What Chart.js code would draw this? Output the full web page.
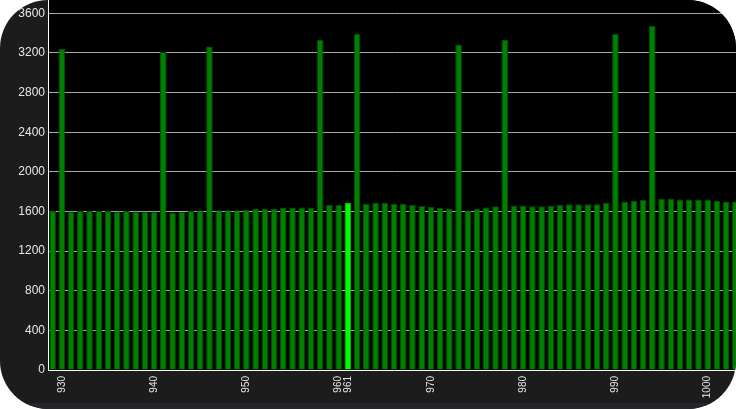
<!DOCTYPE html>
<html>
<head>
<meta charset="utf-8">
<script src="https://cdn.jsdelivr.net/npm/chart.js@4"></script>
<style>
    html, body { margin: 0; padding: 0; background: #ffffff; overflow: hidden; }
    #panel {
        position: relative;
        width: 736px;
        height: 409px;
        border-radius: 48px;
        overflow: hidden;
        background: #1c1c1c;
    }
    #band {
        position: absolute;
        left: 0; right: 0; bottom: 0;
        height: 6px;
        background: #25262a;
    }
    canvas { position: absolute; left: 0; top: 0; }
</style>
</head>
<body>
<div id="panel">
    <canvas id="frameChart" width="740" height="409"></canvas>
    <div id="band"></div>
</div>
<script>
// frame numbers on the x axis
const frames = [
    929, 930, 931, 932, 933, 934, 935, 936, 937, 938, 939, 940, 941, 942, 943,
    944, 945, 946, 947, 948, 949, 950, 951, 952, 953, 954, 955, 956, 957, 958,
    959, 960, 961, 962, 963, 964, 965, 966, 967, 968, 969, 970, 971, 972, 973,
    974, 975, 976, 977, 978, 979, 980, 981, 982, 983, 984, 985, 986, 987, 988,
    989, 990, 991, 992, 993, 994, 995, 996, 997, 998, 999, 1000, 1001, 1002, 1003
];

// value per frame
const frameValues = [
    1605, 3240, 1600, 1605, 1605, 1605, 1605, 1600, 1605, 1600, 1600, 1600, 3210, 1590, 1595,
    1605, 1610, 3265, 1612, 1612, 1612, 1615, 1625, 1625, 1625, 1640, 1640, 1640, 1640, 3335,
    1665, 1665, 1688, 3395, 1678, 1688, 1688, 1678, 1678, 1668, 1655, 1645, 1635, 1628, 3285,
    1608, 1628, 1640, 1652, 3330, 1660, 1660, 1652, 1652, 1660, 1667, 1673, 1673, 1673, 1673,
    1687, 3395, 1700, 1707, 1718, 3475, 1725, 1725, 1720, 1720, 1720, 1720, 1707, 1700, 1700
];

// labels that are written under the axis
const shownTicks = [930, 940, 950, 960, 961, 970, 980, 990, 1000];
const selectedFrame = 961;

// y axis ticks
const yTicks = [0, 400, 800, 1200, 1600, 2000, 2400, 2800, 3200, 3600];
const yMax = 3735;

// black plot area
const plotBackground = {
    id: 'plotBackground',
    beforeDraw(chart) {
        const a = chart.chartArea;
        const ctx = chart.ctx;
        ctx.save();
        ctx.fillStyle = '#000000';
        ctx.fillRect(a.left, a.top, a.right - a.left, a.bottom - a.top);
        ctx.restore();
    }
};

const ctx = document.getElementById('frameChart').getContext('2d');
const chart = new Chart(ctx, {
    type: 'bar',
    data: {
        labels: frames.map(String),
        datasets: [{
            data: frameValues,
            backgroundColor: frames.map(f => f === selectedFrame ? '#00ff00' : '#008000'),
            borderColor: frames.map(f => f === selectedFrame ? '#00c800' : '#005200'),
            borderWidth: 1,
            barPercentage: 0.72,
            categoryPercentage: 1
        }]
    },
    options: {
        responsive: false,
        animation: false,
        layout: { padding: 0 },
        plugins: {
            legend: { display: false },
            tooltip: { enabled: false }
        },
        scales: {
            x: {
                z: 1,
                grid: { display: false, drawTicks: false },
                border: { display: true, color: '#ffffff', width: 1 },
                ticks: {
                    autoSkip: false,
                    minRotation: 90,
                    maxRotation: 90,
                    padding: 6,
                    color: '#e6e6e6',
                    font: { family: 'Liberation Sans', size: 10 },
                    callback: function (value) {
                        const f = frames[value];
                        return shownTicks.includes(f) ? String(f) : '';
                    }
                },
                afterFit: function (scale) {
                    scale.height = 39;
                    scale.paddingLeft = 0;
                    scale.paddingRight = 0;
                }
            },
            y: {
                z: 1,
                min: 0,
                max: yMax,
                grid: { color: '#a8a8a8', lineWidth: 1, drawTicks: false },
                border: { display: true, color: '#ffffff', width: 1 },
                ticks: {
                    autoSkip: false,
                    padding: 3,
                    color: '#e6e6e6',
                    font: { family: 'Liberation Sans', size: 12 },
                    callback: function (value) {
                        return String(value);
                    }
                },
                afterBuildTicks: function (scale) {
                    scale.ticks = yTicks.map(v => ({ value: v }));
                },
                afterFit: function (scale) {
                    scale.width = 48;
                    scale.paddingTop = 0;
                    scale.paddingBottom = 0;
                }
            }
        }
    },
    plugins: [plotBackground]
});
</script>
</body>
</html>
